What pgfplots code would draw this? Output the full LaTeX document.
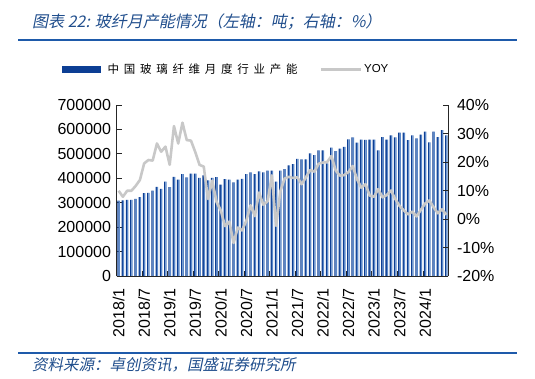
\documentclass[border=0pt]{standalone}
\usepackage{pgfplots}
\usepackage{pgfplotstable}
\pgfplotsset{compat=1.18}
\usepackage{fontspec}
\setmainfont{Liberation Sans}
\newfontfamily\cjk{Noto Sans CJK SC}
\newfontfamily\cjkit[FakeSlant=0.2]{Noto Sans CJK SC}
\newfontfamily\cjkleg[LetterSpace=41]{Noto Sans CJK SC}
\definecolor{bardark}{RGB}{12,62,148}
\definecolor{barlight}{RGB}{92,137,201}
\definecolor{yoygrey}{RGB}{200,200,200}
\definecolor{titleblue}{RGB}{31,77,140}
\definecolor{rulecol}{RGB}{30,90,170}

\pgfplotstableread{
i cap yoy
0 309000 9.9
1 310000 7.8
2 312000 9.9
3 312000 9.9
4 316000 11.6
5 323000 13.7
6 339000 19.5
7 340000 20.7
8 349000 20.5
9 365000 26.5
10 357000 23.6
11 386000 25.4
12 364000 19.0
13 406000 32.6
14 394000 26.5
15 417000 33.8
16 404000 27.7
17 419000 27.5
18 419000 23.5
19 402000 19.0
20 412000 18.4
21 391000 7.0
22 402000 13.5
23 405000 6.0
24 374000 3.0
25 397000 -2.5
26 394000 -0.9
27 383000 -8.4
28 394000 -3.0
29 398000 -4.0
30 417000 -0.6
31 424000 4.8
32 417000 1.0
33 428000 9.3
34 424000 5.0
35 431000 6.2
36 431000 15.3
37 386000 -2.4
38 431000 9.8
39 438000 14.2
40 453000 14.8
41 458000 14.4
42 479000 14.6
43 477000 12.2
44 477000 14.6
45 502000 17.2
46 495000 16.6
47 514000 19.4
48 514000 19.8
49 461000 20.0
50 526000 22.1
51 511000 17.0
52 521000 15.2
53 529000 15.4
54 559000 16.5
55 567000 18.6
56 546000 14.0
57 558000 11.0
58 557000 12.2
59 558000 8.2
60 558000 7.8
61 514000 10.5
62 569000 7.6
63 558000 8.4
64 576000 10.0
65 567000 7.0
66 587000 4.6
67 587000 3.0
68 556000 1.6
69 576000 2.6
70 563000 0.9
71 579000 3.2
72 591000 5.4
73 547000 6.5
74 591000 4.1
75 569000 2.0
76 597000 3.4
77 576000 1.5
}\data

\pgfplotsset{
  common/.style={
    at={(116.5pt,103pt)}, anchor=south west, scale only axis,
    width=332pt, height=171pt, xmin=-0.5, xmax=77.5,
    axis line style={-, black!85, line width=0.9pt},
    tick style={black!85, line width=0.9pt},
    tick align=inside, major tick length=5pt, minor tick length=5pt,
    tick label style={font=\fontsize{16}{18}\selectfont},
    /pgf/number format/assume math mode=true,
  }
}

\begin{document}
\begin{tikzpicture}[x=1pt,y=1pt]
\useasboundingbox (0,0) rectangle (535,379);
\node[anchor=west, font=\cjkit\fontsize{16}{18}\selectfont, text=titleblue, inner sep=0pt] at (32,357.5) {图表 22: 玻纤月产能情况（左轴：吨；右轴：\%）};
\draw[rulecol, line width=1.8pt] (18,339) -- (517,339);
\draw[rulecol, line width=1.5pt] (18,26) -- (517,26);
\node[anchor=west, font=\cjkit\fontsize{15.5}{17}\selectfont, text=titleblue, inner sep=0pt] at (32,14) {资料来源：卓创资讯，国盛证券研究所};

\begin{axis}[common,
  ymin=0, ymax=700000,
  axis x line*=bottom, axis y line*=left,
  ytick={0,100000,...,700000}, scaled y ticks=false,
  yticklabel style={/pgf/number format/.cd, fixed, precision=0, 1000 sep={}},
  yticklabel shift=2pt,
  xtick={0,6,...,72},
  xticklabels={2018/1,2018/7,2019/1,2019/7,2020/1,2020/7,2021/1,2021/7,2022/1,2022/7,2023/1,2023/7,2024/1},
  xticklabel style={rotate=90, anchor=east},
  xticklabel shift=9pt,
  major x tick style={draw=none},
  minor xtick={5.5,11.5,...,71.5},
]
\addplot[ybar, bar width=1.3pt, bar shift=-0.65pt, fill=bardark, draw=none] table[x=i,y=cap]{\data};
\addplot[ybar, bar width=1.3pt, bar shift=0.65pt, fill=barlight, draw=none] table[x=i,y=cap]{\data};
\end{axis}

\begin{axis}[common,
  ymin=-20, ymax=40,
  axis y line*=right, axis x line=none,
  ytick={-20,-10,...,40},
  yticklabel={\pgfmathprintnumber{\tick}\%},
  yticklabel shift=5pt,
  legend columns=2,
  legend cell align=left,
  legend style={at={(axis description cs:-0.173,1.2076)}, anchor=west, draw=none, fill=none,
    font=\fontsize{11.5}{13}\selectfont,
    /tikz/every even column/.append style={column sep=20pt}},
]
\addlegendimage{legend image code/.code={\fill[bardark] (0pt,-2.9pt) rectangle (38pt,2.9pt);}}
\addlegendentry{\hspace{5pt}\cjkleg 中国玻璃纤维月度行业产能}
\addplot[yoygrey, line width=2.6pt, line join=round,
  legend image code/.code={\draw[yoygrey, line width=2.6pt] (0pt,0pt) -- (40pt,0pt);}]
  table[x=i,y=yoy]{\data};
\addlegendentry{YOY}
\end{axis}
\end{tikzpicture}
\end{document}
